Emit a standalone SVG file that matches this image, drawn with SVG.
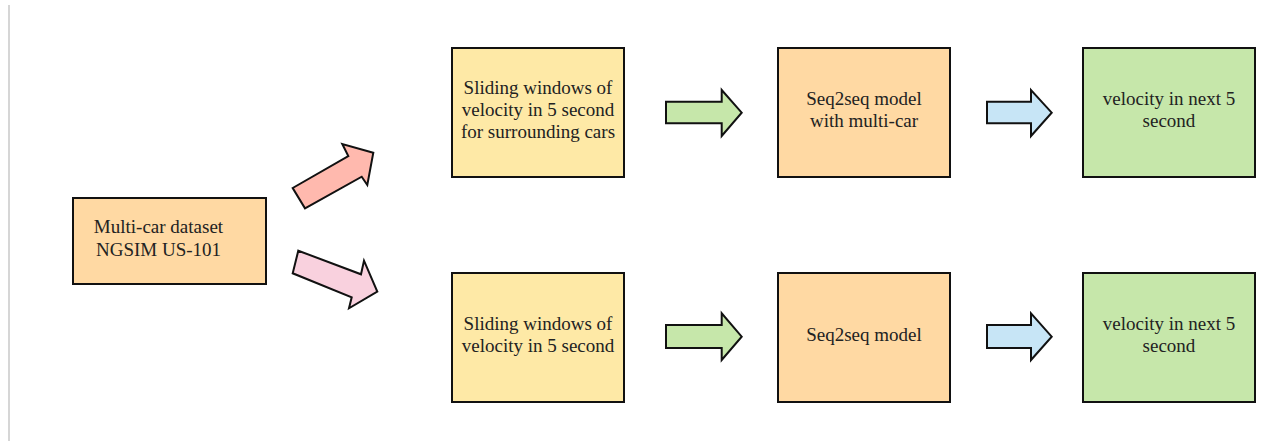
<svg xmlns="http://www.w3.org/2000/svg" width="1263" height="441" viewBox="0 0 1263 441">
  <style>
    .box { stroke: #111; stroke-width: 2; }
    .src { fill: #ffd9a3; }
    .win { fill: #fee9a6; }
    .mdl { fill: #ffd9a3; }
    .out { fill: #c6e7aa; }
    .arw { stroke: #111; stroke-width: 2; stroke-linejoin: miter; }
    .lbl { font-family: "Liberation Serif", "Times New Roman", serif; font-size: 19px; fill: #222; text-anchor: middle; }
  </style>

  <rect width="1263" height="441" fill="#ffffff"/>
  <line x1="9" y1="5" x2="9" y2="441" stroke="#c8c8c8" stroke-width="1.5"/>

  <g id="dataset">
    <rect class="box src" x="73" y="198" width="193" height="86"/>
    <text class="lbl" x="158.5" y="233">Multi-car dataset</text>
    <text class="lbl" x="158.5" y="256">NGSIM US-101</text>
  </g>

  <g id="window-multi">
    <rect class="box win" x="452" y="48" width="172" height="129"/>
    <text class="lbl" x="538" y="94">Sliding windows of</text>
    <text class="lbl" x="538" y="116">velocity in 5 second</text>
    <text class="lbl" x="538" y="138">for surrounding cars</text>
  </g>

  <g id="model-multi">
    <rect class="box mdl" x="778" y="48" width="172" height="129"/>
    <text class="lbl" x="864" y="105">Seq2seq model</text>
    <text class="lbl" x="864" y="127">with multi-car</text>
  </g>

  <g id="output-multi">
    <rect class="box out" x="1083" y="48" width="172" height="129"/>
    <text class="lbl" x="1169" y="105">velocity in next 5</text>
    <text class="lbl" x="1169" y="127">second</text>
  </g>

  <g id="window-single">
    <rect class="box win" x="452" y="273" width="172" height="129"/>
    <text class="lbl" x="538" y="330">Sliding windows of</text>
    <text class="lbl" x="538" y="352">velocity in 5 second</text>
  </g>

  <g id="model-single">
    <rect class="box mdl" x="778" y="273" width="172" height="129"/>
    <text class="lbl" x="864" y="341">Seq2seq model</text>
  </g>

  <g id="output-single">
    <rect class="box out" x="1083" y="273" width="172" height="129"/>
    <text class="lbl" x="1169" y="330">velocity in next 5</text>
    <text class="lbl" x="1169" y="352">second</text>
  </g>

  <g id="connectors">
    <!-- dataset to multi-car windows -->
    <polygon class="arw" fill="#ffb9ae" points="292.7,188 348.3,156 342.3,144 373.3,152.7 367.3,185 361.7,176.7 305,208.3"/>
    <!-- dataset to single-car windows -->
    <polygon class="arw" fill="#f9d1de" points="298.3,250.7 361,274.3 364,260.7 377.3,291.7 349,308.3 351.7,297.3 292.7,273.3"/>
    <!-- windows to models -->
    <polygon class="arw" fill="#c6e7aa" points="666,101.7 721.7,101.7 721.7,90 741.7,112.7 721.7,136 721.7,123.3 666,123.3"/>
    <polygon class="arw" fill="#c6e7aa" points="666,325 721.7,325 721.7,313.3 741.7,336.7 721.7,360 721.7,348 666,348"/>
    <!-- models to outputs -->
    <polygon class="arw" fill="#c7e5f6" points="987,101.7 1031,101.7 1031,90 1051.7,112.7 1031,136 1031,123.3 987,123.3"/>
    <polygon class="arw" fill="#c7e5f6" points="987,325 1031,325 1031,313.3 1051.7,336.7 1031,360 1031,348 987,348"/>
  </g>
</svg>
